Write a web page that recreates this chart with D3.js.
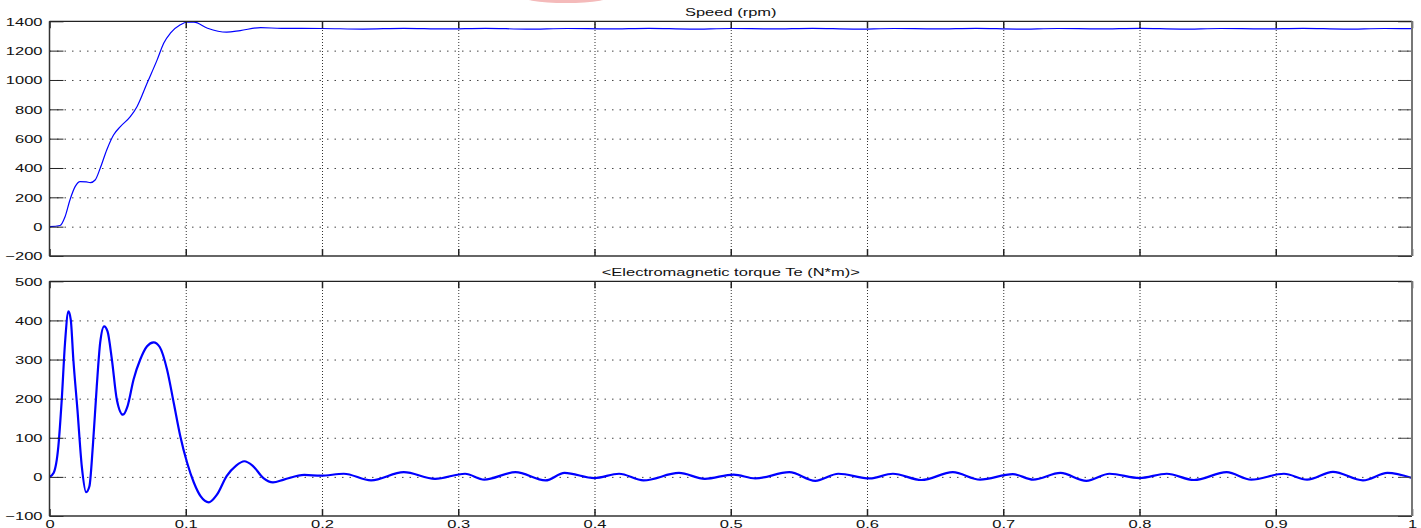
<!DOCTYPE html>
<html>
<head>
<meta charset="utf-8">
<script src="https://cdn.jsdelivr.net/npm/d3@7"></script>
<style>
  body { margin: 0; background: #fff; }
  svg { display: block; }
  text { font-family: "Liberation Sans", Arial, sans-serif; fill: #111; }
</style>
</head>
<body>
<svg width="1421" height="528"></svg>
<script>
// time ticks (s)
var xTicks = [0, 0.1, 0.2, 0.3, 0.4, 0.5, 0.6, 0.7, 0.8, 0.9, 1];
var speedTicks = [-200, 0, 200, 400, 600, 800, 1000, 1200, 1400];
var torqueTicks = [-100, 0, 100, 200, 300, 400, 500];

// Speed (rpm)
var speedT = [0, 0.0077, 0.0114, 0.015, 0.0188, 0.0225, 0.027, 0.030, 0.0335, 0.0372, 0.042, 0.047,
  0.052, 0.0593, 0.0642, 0.0716, 0.079, 0.0838, 0.0887, 0.096, 0.101, 0.106, 0.116, 0.130, 0.140,
  0.155, 0.17, 0.2, 0.23, 0.26, 0.29, 0.32, 0.35, 0.38, 0.41, 0.44, 0.47, 0.5, 0.53, 0.56, 0.59,
  0.62, 0.65, 0.68, 0.71, 0.74, 0.77, 0.8, 0.83, 0.86, 0.89, 0.92, 0.95, 0.98, 1.0];
var speedV = [0, 8, 68, 182, 273, 307, 305, 300, 318, 398, 523, 625,
  682, 750, 818, 978, 1137, 1251, 1319, 1376, 1394, 1394, 1353, 1326, 1337,
  1357, 1352, 1351, 1347, 1352, 1348, 1352, 1347, 1351, 1348, 1352, 1347, 1351, 1348, 1352, 1347,
  1351, 1348, 1352, 1347, 1351, 1348, 1352, 1347, 1351, 1348, 1352, 1347, 1351, 1350];

// Electromagnetic torque Te (N*m)
var torqueT = [0, 0.003, 0.0065, 0.009, 0.0114, 0.0139, 0.0156, 0.0175, 0.0205, 0.0237, 0.0269,
  0.0293, 0.0318, 0.0347, 0.0372, 0.0401, 0.0426, 0.0458, 0.0494, 0.0539, 0.0573, 0.0617, 0.0666,
  0.0716, 0.0764, 0.0809, 0.0863, 0.0912, 0.096, 0.101, 0.106, 0.111, 0.117, 0.123, 0.130, 0.137,
  0.143, 0.149, 0.157, 0.164, 0.172, 0.187, 0.199, 0.216, 0.236, 0.260, 0.283, 0.305, 0.319, 0.342,
  0.364, 0.378, 0.40, 0.418, 0.436, 0.462, 0.481, 0.502, 0.518, 0.543, 0.562, 0.579, 0.602, 0.619,
  0.640, 0.663, 0.683, 0.707, 0.722, 0.742, 0.761, 0.778, 0.800, 0.820, 0.840, 0.864, 0.882, 0.906,
  0.923, 0.942, 0.964, 0.982, 1.0];
var torqueV = [0, 10, 78, 198, 343, 423, 402, 300, 172, 27, -39,
  -24, 78, 232, 343, 385, 372, 300, 198, 159, 181, 249, 300,
  334, 344, 332, 274, 189, 104, 36, -15, -50, -65, -45, 2, 29,
  40, 29, -3, -14, -7, 5, 3, 8, -9, 12, -5, 8, -7, 12,
  -9, 10, -3, 8, -9, 10, -5, 6, -4, 12, -10, 8, -4, 8,
  -8, 12, -7, 7, -7, 10, -10, 8, -3, 8, -8, 12, -7, 8,
  -7, 13, -9, 10, -3];

var left = 49.5, right = 1412;
var stretch = 1.5; // the scope capture is stretched sideways

var svg = d3.select("svg");

// faint red smudge at the top edge of the capture
svg.append("ellipse")
  .attr("cx", 566).attr("cy", -5).attr("rx", 48).attr("ry", 8)
  .attr("fill", "#f4baba");

var xScale = d3.scaleLinear().domain([0, 1]).range([left, right]);

function stretchText(sel, dx, dy) {
  sel.selectAll(".tick text")
    .attr("x", dx / stretch)
    .attr("dy", dy)
    .attr("transform", "scale(" + stretch + ",1)")
    .attr("font-size", "11px")
    .attr("fill", "#111");
}

function panel(top, bottom, yDomain, yTicks, title, tArr, vArr, lineWidth, showX) {
  var yScale = d3.scaleLinear().domain(yDomain).range([bottom, top]);
  var w = right - left, h = bottom - top;
  var g = svg.append("g");

  // horizontal grid
  g.append("g")
    .attr("transform", "translate(" + left + ",0)")
    .call(d3.axisLeft(yScale).tickValues(yTicks.slice(1, -1)).tickSize(-w).tickFormat(""))
    .call(s => s.select(".domain").remove())
    .selectAll("line")
    .attr("stroke", "#444")
    .attr("stroke-dasharray", "1.5,6");

  // vertical grid
  g.append("g")
    .attr("transform", "translate(0," + bottom + ")")
    .call(d3.axisBottom(xScale).tickValues(xTicks.slice(1, -1)).tickSize(-h).tickFormat(""))
    .call(s => s.select(".domain").remove())
    .selectAll("line")
    .attr("stroke", "#333")
    .attr("stroke-dasharray", "1,2");

  // data line
  var line = d3.line()
    .x(function(d) { return xScale(d[0]); })
    .y(function(d) { return yScale(d[1]); })
    .curve(d3.curveMonotoneX);
  g.append("path")
    .datum(tArr.map(function(t, i) { return [t, vArr[i]]; }))
    .attr("fill", "none")
    .attr("stroke", "#0000ff")
    .attr("stroke-width", lineWidth)
    .attr("stroke-linejoin", "round")
    .attr("d", line);

  // left axis with labels, ticks pointing in
  var yl = g.append("g")
    .attr("transform", "translate(" + left + ",0)")
    .call(d3.axisLeft(yScale).tickValues(yTicks).tickFormat(d3.format("d"))
      .tickSizeInner(-14).tickSizeOuter(0).tickPadding(7));
  yl.select(".domain").remove();
  yl.selectAll("line").attr("stroke", "#222");
  stretchText(yl, -7, "0.35em");

  var yr = g.append("g")
    .attr("transform", "translate(" + right + ",0)")
    .call(d3.axisRight(yScale).tickValues(yTicks).tickSizeInner(-14).tickSizeOuter(0).tickFormat(""));
  yr.select(".domain").remove();
  yr.selectAll("line").attr("stroke", "#444");

  var xt = g.append("g")
    .attr("transform", "translate(0," + top + ")")
    .call(d3.axisTop(xScale).tickValues(xTicks).tickSizeInner(-7).tickSizeOuter(0).tickFormat(""));
  xt.select(".domain").remove();
  xt.selectAll("line").attr("stroke", "#222").attr("stroke-width", 1.5);

  var xb = g.append("g")
    .attr("transform", "translate(0," + bottom + ")")
    .call(d3.axisBottom(xScale).tickValues(xTicks).tickSizeInner(-7).tickSizeOuter(0)
      .tickPadding(7).tickFormat(showX ? d3.format("") : ""));
  xb.select(".domain").remove();
  xb.selectAll("line").attr("stroke", "#222").attr("stroke-width", 1.5);
  if (showX) {
    xb.selectAll(".tick text")
      .attr("y", 4)
      .attr("dy", "0.71em")
      .attr("x", 0)
      .attr("transform", "scale(" + stretch + ",1)")
      .attr("font-size", "11px")
      .attr("fill", "#111");
  }

  // box
  g.append("line").attr("x1", left).attr("x2", right).attr("y1", top).attr("y2", top)
    .attr("stroke", "#222").attr("stroke-width", 1.2);
  g.append("line").attr("x1", left).attr("x2", right).attr("y1", bottom).attr("y2", bottom)
    .attr("stroke", "#333").attr("stroke-width", 1.5);
  g.append("line").attr("x1", left).attr("x2", left).attr("y1", top).attr("y2", bottom)
    .attr("stroke", "#333").attr("stroke-width", 1.5);
  g.append("line").attr("x1", right).attr("x2", right).attr("y1", top).attr("y2", bottom)
    .attr("stroke", "#777").attr("stroke-width", 2);

  // title
  g.append("text")
    .attr("transform", "translate(" + ((left + right) / 2) + "," + (top - 5) + ") scale(" + stretch + ",1)")
    .attr("text-anchor", "middle")
    .attr("font-size", "11px")
    .text(title);
}

panel(21.3, 256, [-200, 1400], speedTicks, "Speed (rpm)", speedT, speedV, 1.2, false);
panel(281.3, 516, [-100, 500], torqueTicks, "<Electromagnetic torque Te (N*m)>", torqueT, torqueV, 2.2, true);
</script>
</body>
</html>
